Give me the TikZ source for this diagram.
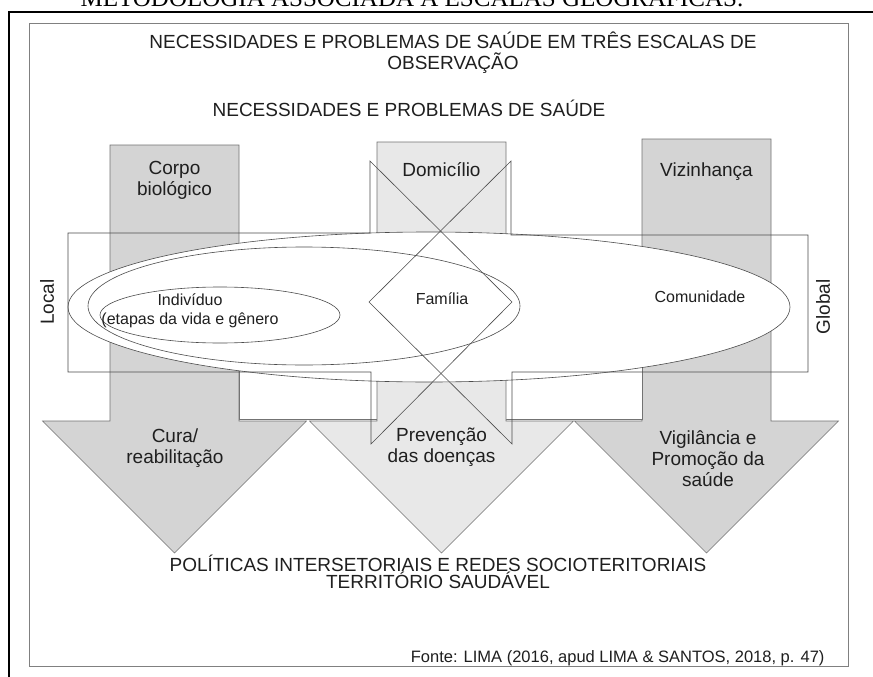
\documentclass[tikz,border=0pt]{standalone}
\usepackage{fontspec}
\setmainfont{Liberation Sans}
\newfontfamily\serifa{Liberation Serif}
\begin{document}
\begin{tikzpicture}[x=1pt,y=-1pt,
	seta/.style={draw=black!55,line width=0.6pt},
	escuro/.style={seta,fill=black!17},
	claro/.style={seta,fill=black!9},
	contorno/.style={draw=black!70,line width=0.6pt},
	grande/.style={font=\fontsize{19}{21}\selectfont,align=center,text=black!88},
	pequeno/.style={font=\fontsize{16}{19}\selectfont,align=center,text=black!88}]
	\useasboundingbox (0,0) rectangle (873,677);
	\clip (0,0) rectangle (873,677);
	\fill[white] (0,0) rectangle (873,677);
	\node[font=\serifa\fontsize{25}{27}\selectfont,anchor=base,inner sep=0pt] (legenda) at (412,7) {METODOLOGIA ASSOCIADA A ESCALAS GEOGRÁFICAS.};
	\draw[line width=2pt] (9,677)--(9,12)--(873,12);
	\draw[black!50,line width=0.8pt] (29,23) rectangle (848,666);
	% setas verticais
	\draw[escuro] (110,145)--(239,145)--(239,421)--(306.5,421)--(174.5,553)--(42.5,421)--(110,421)--cycle;
	\draw[escuro] (642,139)--(771,139)--(771,421)--(838.5,421)--(706.5,553)--(574.5,421)--(642,421)--cycle;
	\draw[seta,fill=white] (239,340) rectangle (642,419);
	\draw[claro] (377,142)--(506,142)--(506,421)--(573.5,421)--(441.5,553)--(309.5,421)--(377,421)--cycle;
	% elipses
	\draw[contorno,fill=white] (429,307) ellipse [x radius=361,y radius=75];
	\draw[contorno] (304,306) ellipse [x radius=216,y radius=59];
	\draw[contorno] (220,315) ellipse [x radius=120,y radius=28];
	% setas horizontais
	\draw[contorno] (68,233)--(370,233)--(370,161)--(512,302)--(371,444)--(371,372)--(68,372)--cycle;
	\draw[contorno] (808,235)--(511,235)--(511,161)--(369,302)--(512,444)--(512,372)--(808,372)--cycle;
	% textos
	\node[grande] (titulo) at (453,53) {NECESSIDADES E PROBLEMAS DE SAÚDE EM TRÊS ESCALAS DE\\OBSERVAÇÃO};
	\node[grande] (subtitulo) at (409,108) {NECESSIDADES E PROBLEMAS DE SAÚDE};
	\node[grande] (corpo) at (174.5,180) {Corpo\\biológico};
	\node[grande] (domicilio) at (441.5,170) {Domicílio};
	\node[grande] (vizinhanca) at (706.5,172) {Vizinhança};
	\node[grande,rotate=90] (local) at (47,302) {Local};
	\node[grande,rotate=90] (global) at (823,307) {Global};
	\node[pequeno] (individuo) at (190,311) {Indivíduo\\(etapas da vida e gênero};
	\node[pequeno] (familia) at (442,299) {Família};
	\node[pequeno] (comunidade) at (700,297) {Comunidade};
	\node[grande] (cura) at (175,448) {Cura/\\reabilitação};
	\node[grande] (prevencao) at (441.5,447) {Prevenção\\das doenças};
	\node[grande] (vigilancia) at (708,459) {Vigilância e\\Promoção da\\saúde};
	\node[grande,font=\fontsize{19}{17.5}\selectfont] (politicas) at (438,572) {POLÍTICAS INTERSETORIAIS E REDES SOCIOTERITORIAIS\\TERRITÓRIO SAUDÁVEL};
	\node[font=\fontsize{16.5}{19}\selectfont,anchor=base east,text=black!88] (fonte) at (828,662) {Fonte: LIMA (2016, apud LIMA \& SANTOS, 2018, p. 47)};
\end{tikzpicture}
\end{document}
